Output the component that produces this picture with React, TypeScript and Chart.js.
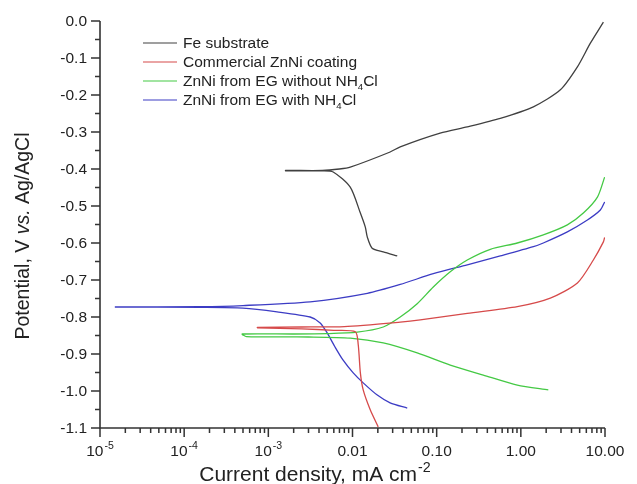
import React, { useEffect, useRef } from 'react';
import { Chart, registerables } from 'chart.js';

Chart.register(...registerables);

const FONT = '"Liberation Sans", Arial, Helvetica, sans-serif';

const seriesLabels = [
  'Fe substrate',
  'Commercial ZnNi coating',
  'ZnNi from EG without NH₄Cl',
  'ZnNi from EG with NH₄Cl',
];
const seriesColors = ['#404040', '#d64a4a', '#44c944', '#3c3cc4'];

// Fe substrate: cathodic branch (from most negative) then anodic branch
const feCurrent = [0.034, 0.0232, 0.0171, 0.015, 0.0142, 0.0124, 0.0094, 0.0059, 0.0044, 0.0016,
  0.0016, 0.0044, 0.007, 0.0094, 0.028, 0.0369, 0.11, 0.231, 0.57, 1.41, 2.95, 4.7, 6.7, 9.57];
const fePotential = [-0.635, -0.624, -0.614, -0.584, -0.557, -0.519, -0.449, -0.408, -0.405, -0.405,
  -0.404, -0.404, -0.4, -0.395, -0.354, -0.34, -0.303, -0.286, -0.263, -0.232, -0.186, -0.124, -0.06, -0.003];

const redCurrent = [0.0202, 0.0162, 0.0134, 0.0124, 0.0117, 0.0108, 0.006, 0.0025, 0.00074,
  0.00074, 0.0025, 0.008, 0.0369, 0.0638, 0.231, 0.908, 2.24, 4.7, 7.27, 9.57, 9.9];
const redPotential = [-1.097, -1.05, -0.997, -0.951, -0.875, -0.84, -0.836, -0.832, -0.829,
  -0.828, -0.827, -0.826, -0.814, -0.808, -0.79, -0.772, -0.749, -0.708, -0.646, -0.597, -0.585];

const greenCurrent = [2.12, 0.908, 0.358, 0.145, 0.0587, 0.0232, 0.0094, 0.003, 0.00055,
  0.00049, 0.002, 0.005, 0.0114, 0.0232, 0.0369, 0.0587, 0.0912, 0.145, 0.231, 0.434, 0.908, 1.85, 3.57, 5.53, 8.13, 9.9];
const greenPotential = [-0.997, -0.984, -0.957, -0.93, -0.897, -0.87, -0.857, -0.854, -0.853,
  -0.846, -0.846, -0.845, -0.841, -0.827, -0.8, -0.764, -0.719, -0.678, -0.646, -0.617, -0.6, -0.578, -0.551, -0.519, -0.476, -0.422];

const blueCurrent = [0.0447, 0.028, 0.0197, 0.0134, 0.0102, 0.0077, 0.0062, 0.005, 0.00413, 0.00314, 0.00127, 0.0005, 0.000155, 0.000015,
  0.000015, 0.000155, 0.0005, 0.00314, 0.015, 0.0369, 0.0912, 0.231, 0.57, 1.41, 1.85, 3.57, 6.18, 8.8, 9.9];
const bluePotential = [-1.046, -1.032, -1.011, -0.978, -0.951, -0.916, -0.881, -0.843, -0.816, -0.8, -0.786, -0.776, -0.774, -0.773,
  -0.773, -0.772, -0.769, -0.759, -0.736, -0.712, -0.683, -0.659, -0.635, -0.61, -0.6, -0.57, -0.538, -0.511, -0.489];

const yTickValues = [0, -0.1, -0.2, -0.3, -0.4, -0.5, -0.6, -0.7, -0.8, -0.9, -1.0, -1.1];
const yTickLabels = ['0.0', '-0.1', '-0.2', '-0.3', '-0.4', '-0.5', '-0.6', '-0.7', '-0.8', '-0.9', '-1.0', '-1.1'];
const xTickValues = [1e-5, 1e-4, 1e-3, 0.01, 0.1, 1, 10];
const xTickLabels = ['10^-5', '10^-4', '10^-3', '0.01', '0.10', '1.00', '10.00'];

const xTitle = 'Current density, mA cm^-2';
const yTitleParts = [
  { text: 'Potential, V ', italic: false },
  { text: 'vs.', italic: true },
  { text: ' Ag/AgCl', italic: false },
];

const toPoints = (xs: number[], ys: number[]) => xs.map((x, i) => ({ x, y: ys[i] }));

function drawSup(ctx: CanvasRenderingContext2D, s: string, x: number, y: number, size: number, align: 'center' | 'left') {
  const [base, sup] = s.split('^');
  ctx.font = `${size}px ${FONT}`;
  const wb = ctx.measureText(base).width;
  const supSize = size * 0.68;
  ctx.font = `${supSize}px ${FONT}`;
  const ws = sup ? ctx.measureText(sup).width : 0;
  const total = wb + ws + (sup ? 1 : 0);
  const sx = align === 'center' ? x - total / 2 : x;
  ctx.textAlign = 'left';
  ctx.textBaseline = 'alphabetic';
  ctx.font = `${size}px ${FONT}`;
  ctx.fillText(base, sx, y);
  if (sup) {
    ctx.font = `${supSize}px ${FONT}`;
    ctx.fillText(sup, sx + wb + 1, y - size * 0.42);
  }
}

const axesPlugin = {
  id: 'customAxes',
  afterDraw(chart: any) {
    const ctx: CanvasRenderingContext2D = chart.ctx;
    const xs = chart.scales.x;
    const ys = chart.scales.y;
    const { left, right, top, bottom } = chart.chartArea;
    ctx.save();
    ctx.strokeStyle = '#333';
    ctx.fillStyle = '#222';
    ctx.lineWidth = 1.6;
    ctx.beginPath();
    ctx.moveTo(left, top);
    ctx.lineTo(left, bottom);
    ctx.lineTo(right, bottom);
    ctx.stroke();

    ctx.lineWidth = 1.5;
    ctx.beginPath();
    yTickValues.forEach((v, i) => {
      const py = ys.getPixelForValue(v);
      ctx.moveTo(left - 9, py);
      ctx.lineTo(left, py);
      if (i < yTickValues.length - 1) {
        const pm = ys.getPixelForValue((v + yTickValues[i + 1]) / 2);
        ctx.moveTo(left - 5, pm);
        ctx.lineTo(left, pm);
      }
    });
    xTickValues.forEach((v, i) => {
      const px = xs.getPixelForValue(v);
      ctx.moveTo(px, bottom);
      ctx.lineTo(px, bottom + 9);
      if (i < xTickValues.length - 1) {
        for (let m = 2; m <= 9; m++) {
          const pm = xs.getPixelForValue(v * m);
          ctx.moveTo(pm, bottom);
          ctx.lineTo(pm, bottom + 5);
        }
      }
    });
    ctx.stroke();

    ctx.font = `15.5px ${FONT}`;
    ctx.textAlign = 'right';
    ctx.textBaseline = 'middle';
    yTickValues.forEach((v, i) => {
      ctx.fillText(yTickLabels[i], left - 13, ys.getPixelForValue(v) + 1);
    });
    xTickValues.forEach((v, i) => {
      drawSup(ctx, xTickLabels[i], xs.getPixelForValue(v), bottom + 28, 15.5, 'center');
    });

    drawSup(ctx, xTitle, 315, 481, 21, 'center');

    ctx.save();
    ctx.translate(29, 236);
    ctx.rotate(-Math.PI / 2);
    const ysize = 19.5;
    let total = 0;
    yTitleParts.forEach((p) => {
      ctx.font = `${p.italic ? 'italic ' : ''}${ysize}px ${FONT}`;
      total += ctx.measureText(p.text).width;
    });
    let cx = -total / 2;
    ctx.textAlign = 'left';
    ctx.textBaseline = 'alphabetic';
    yTitleParts.forEach((p) => {
      ctx.font = `${p.italic ? 'italic ' : ''}${ysize}px ${FONT}`;
      ctx.fillText(p.text, cx, 0);
      cx += ctx.measureText(p.text).width;
    });
    ctx.restore();

    const rows = [43, 62, 81, 100];
    const lsize = 15.5;
    chart.data.datasets.forEach((ds: any, i: number) => {
      const ry = rows[i];
      ctx.strokeStyle = ds.borderColor;
      ctx.lineWidth = 1.2;
      ctx.beginPath();
      ctx.moveTo(143, ry);
      ctx.lineTo(177, ry);
      ctx.stroke();
      ctx.fillStyle = '#222';
      ctx.textAlign = 'left';
      ctx.textBaseline = 'middle';
      const parts = String(ds.label).split('₄');
      let tx = 183;
      parts.forEach((part: string, k: number) => {
        ctx.font = `${lsize}px ${FONT}`;
        ctx.fillText(part, tx, ry + 1);
        tx += ctx.measureText(part).width;
        if (k < parts.length - 1) {
          ctx.font = `${lsize * 0.62}px ${FONT}`;
          ctx.fillText('4', tx, ry + 6);
          tx += ctx.measureText('4').width;
        }
      });
    });
    ctx.restore();
  },
};

export default function App() {
  const ref = useRef<HTMLCanvasElement | null>(null);
  useEffect(() => {
    if (!ref.current) return;
    const seriesData = [
      toPoints(feCurrent, fePotential),
      toPoints(redCurrent, redPotential),
      toPoints(greenCurrent, greenPotential),
      toPoints(blueCurrent, bluePotential),
    ];
    const chart = new Chart(ref.current, {
      type: 'scatter',
      data: {
        datasets: seriesData.map((d, i) => ({
          label: seriesLabels[i],
          data: d,
          showLine: true,
          borderColor: seriesColors[i],
          backgroundColor: seriesColors[i],
          borderWidth: 1.3,
          pointRadius: 0,
          tension: 0.25,
          fill: false,
        })),
      },
      options: {
        animation: false,
        responsive: true,
        maintainAspectRatio: false,
        layout: { padding: { left: 0, top: 21, right: 32, bottom: 0 } },
        plugins: { legend: { display: false }, tooltip: { enabled: false } },
        scales: {
          x: {
            type: 'logarithmic',
            min: 1e-5,
            max: 10,
            ticks: { display: false },
            grid: { display: false },
            border: { display: false },
            afterFit: (s: any) => { s.height = 56; },
          },
          y: {
            type: 'linear',
            min: -1.1,
            max: 0,
            ticks: { display: false },
            grid: { display: false },
            border: { display: false },
            afterFit: (s: any) => { s.width = 100; },
          },
        },
      },
      plugins: [axesPlugin],
    });
    return () => chart.destroy();
  }, []);
  return (
    <div style={{ position: 'fixed', left: 0, top: 0, width: 637, height: 484, background: '#fff' }}>
      <canvas ref={ref} />
    </div>
  );
}
